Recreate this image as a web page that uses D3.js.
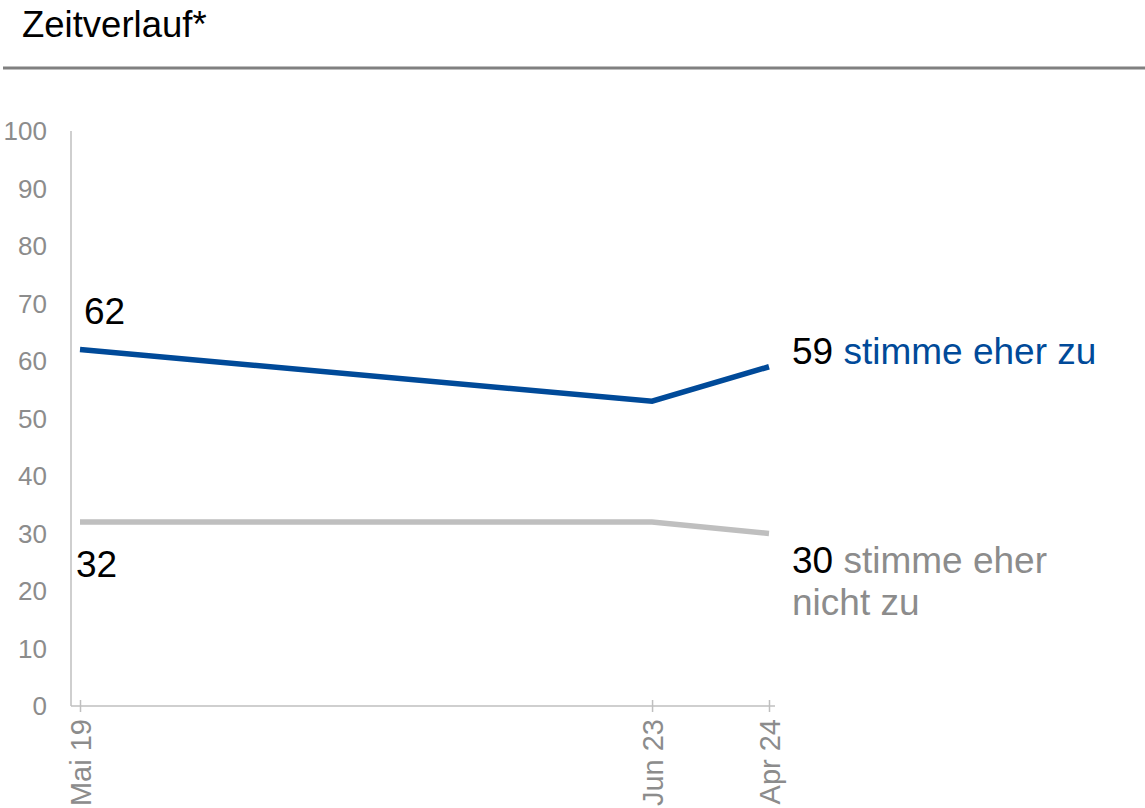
<!DOCTYPE html>
<html>
<head>
<meta charset="utf-8">
<script src="https://cdn.jsdelivr.net/npm/d3@7"></script>
<style>
  body { margin: 0; background: #fff; }
  text { font-family: "Liberation Sans", Arial, sans-serif; }
</style>
</head>
<body>
<div id="chart"></div>
<script>
// data
var dates = ["2019-05-01", "2023-06-01", "2024-04-01"];
var dateLabels = ["Mai 19", "Jun 23", "Apr 24"];
var agree = [62, 53, 59];
var disagree = [32, 32, 30];
var yTicks = [0, 10, 20, 30, 40, 50, 60, 70, 80, 90, 100];

var width = 1145, height = 808;
var parseDate = d3.timeParse("%Y-%m-%d");
var xDates = dates.map(parseDate);

var svg = d3.select("#chart").append("svg")
  .attr("width", width)
  .attr("height", height);

// title + rule
svg.append("text")
  .attr("x", 22)
  .attr("y", 37)
  .style("font-size", "36.5px")
  .attr("fill", "#000")
  .text("Zeitverlauf*");

svg.append("line")
  .attr("x1", 3).attr("x2", width)
  .attr("y1", 68).attr("y2", 68)
  .attr("stroke", "#808080")
  .attr("stroke-width", 3);

// scales
var x = d3.scaleTime().domain(d3.extent(xDates)).range([80, 769]);
var y = d3.scaleLinear().domain([0, 100]).range([706, 131]);
var axisLeftX = 71;

// y axis
svg.append("line")
  .attr("x1", axisLeftX).attr("x2", axisLeftX)
  .attr("y1", y(100)).attr("y2", y(0))
  .attr("stroke", "#bfbfbf").attr("stroke-width", 1.5);

svg.selectAll(".ylab")
  .data(yTicks)
  .enter().append("text")
  .attr("class", "ylab")
  .attr("x", 47)
  .attr("y", function (d) { return y(d) + 9; })
  .attr("text-anchor", "end")
  .style("font-size", "26px")
  .attr("fill", "#8c8c8c")
  .text(function (d) { return d; });

// x axis
var xAxis = d3.axisBottom(x)
  .tickValues(xDates)
  .tickFormat(function (d, i) { return dateLabels[i]; })
  .tickSize(6)
  .tickSizeOuter(0);

var gx = svg.append("g")
  .attr("transform", "translate(0," + y(0) + ")")
  .call(xAxis);
gx.select(".domain").remove();
gx.append("line")
  .attr("x1", axisLeftX).attr("x2", 775)
  .attr("stroke", "#bfbfbf").attr("stroke-width", 1.5);
gx.selectAll(".tick line")
  .attr("y1", -6).attr("y2", 6)
  .attr("stroke", "#bfbfbf").attr("stroke-width", 1.5);
gx.selectAll(".tick text")
  .attr("transform", "rotate(-90)")
  .attr("x", -13)
  .attr("y", 0)
  .attr("dy", "0.35em")
  .attr("text-anchor", "end")
  .style("font-size", "29px")
  .style("font-family", "'Liberation Sans', Arial, sans-serif")
  .attr("fill", "#8c8c8c");

// lines
var line = d3.line()
  .x(function (d) { return x(d.date); })
  .y(function (d) { return y(d.value); });

function series(vals) {
  return vals.map(function (v, i) { return { date: xDates[i], value: v }; });
}

svg.append("path")
  .datum(series(disagree))
  .attr("d", line)
  .attr("fill", "none")
  .attr("stroke", "#bfbfbf")
  .attr("stroke-width", 5.5);

svg.append("path")
  .datum(series(agree))
  .attr("d", line)
  .attr("fill", "none")
  .attr("stroke", "#004a99")
  .attr("stroke-width", 5.5);

// value labels
svg.append("text")
  .attr("x", x(xDates[0]) + 4)
  .attr("y", y(agree[0]) - 26)
  .style("font-size", "37px")
  .attr("fill", "#000")
  .text(agree[0]);

svg.append("text")
  .attr("x", x(xDates[0]) - 4)
  .attr("y", y(disagree[0]) + 55)
  .style("font-size", "37px")
  .attr("fill", "#000")
  .text(disagree[0]);

var last = xDates.length - 1;
var t1 = svg.append("text")
  .attr("x", 792)
  .attr("y", y(agree[last]) - 3)
  .style("font-size", "37px");
t1.append("tspan").attr("fill", "#000").text(agree[last] + " ");
t1.append("tspan").attr("fill", "#004a99").text("stimme eher zu");

var t2 = svg.append("text")
  .attr("x", 792)
  .attr("y", y(disagree[last]) + 39)
  .style("font-size", "37px");
t2.append("tspan").attr("fill", "#000").text(disagree[last] + " ");
t2.append("tspan").attr("fill", "#8c8c8c").text("stimme eher");
svg.append("text")
  .attr("x", 792)
  .attr("y", y(disagree[last]) + 81)
  .style("font-size", "37px")
  .attr("fill", "#8c8c8c")
  .text("nicht zu");
</script>
</body>
</html>
